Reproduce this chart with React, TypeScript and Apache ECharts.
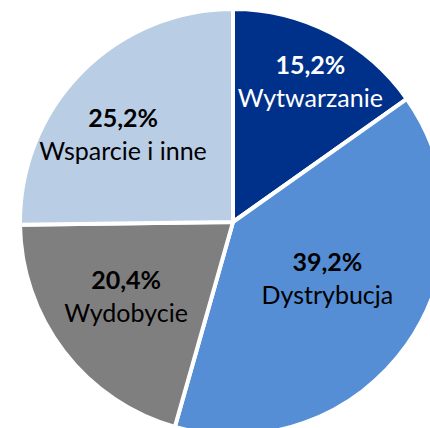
import React, { useEffect, useRef } from "react";
import * as echarts from "echarts";

const categories = ["Wytwarzanie", "Dystrybucja", "Wydobycie", "Wsparcie i inne"];
const values = [15.2, 39.2, 20.4, 25.2];
const colors = ["#00318A", "#558ED5", "#7F7F7F", "#B9CDE5"];
const textColors = ["#FFFFFF", "#000000", "#000000", "#000000"];
// label nudges relative to ECharts' default inside position
const labelNudge: [number, number][] = [
  [27, -44],
  [5, -8],
  [-20, 7],
  [-32, -12],
];

export default function App() {
  const ref = useRef<HTMLDivElement>(null);
  useEffect(() => {
    document.body.style.margin = "0";
    const chart = echarts.init(ref.current!, undefined, { renderer: "svg" });
    chart.setOption({
      animation: false,
      backgroundColor: "#FFFFFF",
      series: [
        {
          type: "pie",
          center: [233, 222],
          radius: 213,
          startAngle: 90,
          clockwise: true,
          avoidLabelOverlap: false,
          itemStyle: { borderColor: "#FFFFFF", borderWidth: 4 },
          labelLine: { show: false },
          label: {
            show: true,
            position: "inside",
            fontFamily: "Lato",
            formatter: (p: any) =>
              "{v|" + p.value.toFixed(1).replace(".", ",") + "%}\n{n|" + p.name + "}",
          },
          labelLayout: (p: any) => ({ dx: labelNudge[p.dataIndex][0], dy: labelNudge[p.dataIndex][1] }),
          data: categories.map((name, i) => ({
            name,
            value: values[i],
            itemStyle: { color: colors[i] },
            label: {
              rich: {
                v: {
                  fontFamily: "Lato",
                  fontWeight: "bold",
                  fontSize: 25,
                  lineHeight: 33,
                  color: textColors[i],
                  align: "center",
                },
                n: {
                  fontFamily: "Lato",
                  fontSize: 25,
                  lineHeight: 33,
                  color: textColors[i],
                  align: "center",
                },
              },
            },
          })),
        },
      ],
    });
    return () => chart.dispose();
  }, []);
  return <div ref={ref} style={{ width: 430, height: 428 }} />;
}
